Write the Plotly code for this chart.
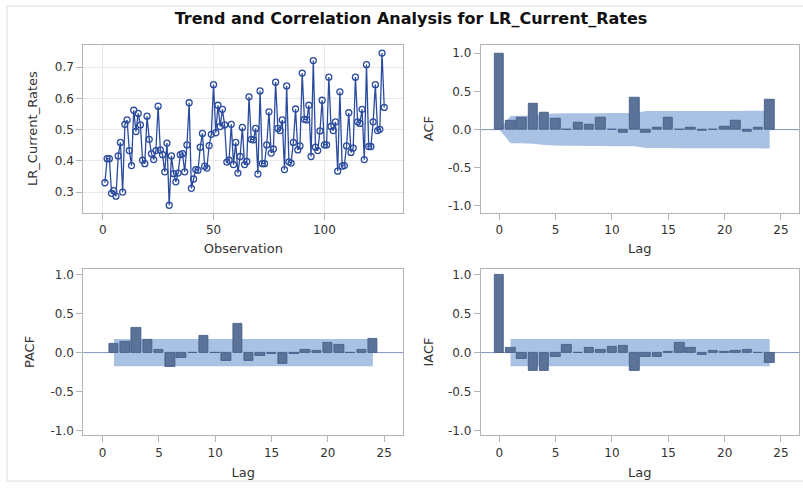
import plotly.graph_objects as go

W, H = 803, 489

# ---------------- data ----------------
series_values = [
    0.330, 0.407, 0.407, 0.296, 0.305, 0.287, 0.416, 0.459, 0.300, 0.517,
    0.531, 0.433, 0.385, 0.562, 0.494, 0.552, 0.515, 0.402, 0.391, 0.543,
    0.469, 0.423, 0.404, 0.433, 0.575, 0.435, 0.420, 0.365, 0.457, 0.258,
    0.416, 0.359, 0.333, 0.361, 0.420, 0.423, 0.365, 0.451, 0.586, 0.312,
    0.342, 0.372, 0.370, 0.444, 0.488, 0.383, 0.377, 0.449, 0.485, 0.644,
    0.490, 0.578, 0.510, 0.565, 0.515, 0.396, 0.402, 0.517, 0.388, 0.459,
    0.361, 0.414, 0.507, 0.388, 0.398, 0.605, 0.469, 0.467, 0.504, 0.358,
    0.624, 0.391, 0.391, 0.451, 0.557, 0.425, 0.438, 0.652, 0.504, 0.497,
    0.531, 0.372, 0.640, 0.397, 0.393, 0.459, 0.566, 0.435, 0.448, 0.681,
    0.533, 0.531, 0.578, 0.414, 0.721, 0.444, 0.433, 0.496, 0.594, 0.451,
    0.451, 0.668, 0.510, 0.497, 0.525, 0.367, 0.621, 0.383, 0.385, 0.448,
    0.554, 0.427, 0.441, 0.668, 0.525, 0.520, 0.565, 0.404, 0.708, 0.446,
    0.446, 0.525, 0.644, 0.497, 0.501, 0.745, 0.571,
]
observations = list(range(1, len(series_values) + 1))

lags = list(range(0, 25))
acf_values = [1.0, 0.113, 0.157, 0.339, 0.217, 0.143, 0.004, 0.087, 0.070, 0.152,
              -0.005, -0.043, 0.413, -0.039, 0.022, 0.152, 0.005, 0.020, -0.020, 0.002,
              0.035, 0.113, -0.026, 0.030, 0.391]
acf_band = [0.0, 0.178, 0.180, 0.184, 0.203, 0.210, 0.213, 0.213, 0.214, 0.215,
            0.217, 0.217, 0.218, 0.242, 0.242, 0.242, 0.244, 0.244, 0.244, 0.244,
            0.244, 0.245, 0.246, 0.246, 0.247]

pacf_lags = list(range(1, 25))
pacf_values = [0.118, 0.140, 0.317, 0.161, 0.042, -0.178, -0.063, 0.002, 0.211, 0.003,
               -0.101, 0.368, -0.101, -0.038, -0.017, -0.144, -0.020, 0.042, 0.021, 0.127,
               0.097, 0.002, 0.042, 0.182]
pacf_band = 0.175

iacf_values = [1.0, 0.055, -0.085, -0.228, -0.228, -0.051, 0.097, 0.003, 0.055, 0.042,
               0.068, 0.085, -0.228, -0.051, -0.051, 0.005, 0.127, 0.055, -0.025, 0.021,
               0.005, 0.021, 0.042, 0.002, -0.127]
iacf_band = 0.175
band_lags = [1, 24]

title_text = "Trend and Correlation Analysis for LR_Current_Rates"

# ---------------- styles ----------------
FONT = "DejaVu Sans, Verdana, sans-serif"
LINE_BLUE = "#2b4c9e"
BAR_FILL = "#5b7399"
BAR_EDGE = "#3f5781"
BAND = "#a9c2e3"
ZERO = "#7d95bd"
BORDER = "#b4b4b4"
TXT = "#333333"

fig = go.Figure()

# ---- time series ----
fig.add_trace(go.Scatter(
    x=observations, y=series_values, mode="lines+markers",
    line=dict(color=LINE_BLUE, width=1.3),
    marker=dict(symbol="circle-open", size=6, color=LINE_BLUE, line=dict(width=1.3)),
    xaxis="x", yaxis="y", showlegend=False))

bar_style = dict(color=BAR_FILL, line=dict(color=BAR_EDGE, width=0.8))
fig.add_trace(go.Bar(x=lags, y=acf_values, width=0.84, marker=bar_style,
                     xaxis="x2", yaxis="y2", showlegend=False))
fig.add_trace(go.Bar(x=pacf_lags, y=pacf_values, width=0.84, marker=bar_style,
                     xaxis="x3", yaxis="y3", showlegend=False))
fig.add_trace(go.Bar(x=lags, y=iacf_values, width=0.84, marker=bar_style,
                     xaxis="x4", yaxis="y4", showlegend=False))


def poly_path(xs, hi, lo):
    pts = list(zip(xs, hi)) + list(zip(xs[::-1], lo[::-1]))
    return "M " + " L ".join(f"{x},{y}" for x, y in pts) + " Z"


# confidence bands (below bars)
fig.add_shape(type="path", xref="x2", yref="y2",
              path=poly_path(lags, acf_band, [-v for v in acf_band]),
              fillcolor=BAND, line=dict(width=0), layer="below")
for xa, ya, b in [("x3", "y3", pacf_band), ("x4", "y4", iacf_band)]:
    fig.add_shape(type="rect", xref=xa, yref=ya, x0=band_lags[0], x1=band_lags[1],
                  y0=-b, y1=b, fillcolor=BAND, line=dict(width=0), layer="below")

# zero reference lines
for xa, ya in [("x2", "y2"), ("x3", "y3"), ("x4", "y4")]:
    fig.add_shape(type="line", xref=f"{xa} domain", yref=ya, x0=0, x1=1, y0=0, y1=0,
                  line=dict(color=ZERO, width=1), layer="below")


def px_x(p):
    return p / W


def px_y(p):
    return 1 - p / H


axis_common = dict(showline=True, mirror=True, linecolor=BORDER, linewidth=1,
                   ticks="outside", ticklen=6, tickcolor=BORDER, tickwidth=1,
                   tickfont=dict(family=FONT, size=12, color=TXT),
                   title_font=dict(family=FONT, size=13, color=TXT),
                   zeroline=False)

xdom_l = [px_x(83.3), px_x(403.3)]
xdom_r = [px_x(480.7), px_x(799)]
ydom_t = [px_y(213.3), px_y(44)]
ydom_b = [px_y(437.7), px_y(270)]

acf_ticks = dict(tickvals=[-1.0, -0.5, 0.0, 0.5, 1.0],
                 ticktext=["-1.0", "-0.5", "0.0", "0.5", "1.0"])
lag_ticks = dict(tickvals=[0, 5, 10, 15, 20, 25])

fig.update_layout(
    width=W, height=H, margin=dict(l=0, r=0, t=0, b=0),
    paper_bgcolor="white", plot_bgcolor="white",
    bargap=0, font=dict(family=FONT, color=TXT),
    title=dict(text=f"<b>{title_text}</b>", x=411 / W, xanchor="center",
               y=px_y(18), yanchor="middle",
               font=dict(family=FONT, size=16, color="#111111")),
    xaxis=dict(domain=xdom_l, anchor="y", range=[-8.75, 135.6],
               tickvals=[0, 50, 100], showgrid=True, gridcolor="#e8e8e8",
               title=dict(text="Observation", standoff=7), **axis_common),
    yaxis=dict(domain=ydom_t, anchor="x", range=[0.2346, 0.772],
               tickvals=[0.3, 0.4, 0.5, 0.6, 0.7], ticktext=["0.3", "0.4", "0.5", "0.6", "0.7"],
               showgrid=True, gridcolor="#e8e8e8",
               title=dict(text="LR_Current_Rates", standoff=14), **axis_common),
    xaxis2=dict(domain=xdom_r, anchor="y2", range=[-1.65, 26.6], showgrid=False,
                title=dict(text="Lag", standoff=7), **lag_ticks, **axis_common),
    yaxis2=dict(domain=ydom_t, anchor="x2", range=[-1.087, 1.113], showgrid=False,
                title=dict(text="ACF", standoff=11), **acf_ticks, **axis_common),
    xaxis3=dict(domain=xdom_l, anchor="y3", range=[-1.72, 26.7], showgrid=False,
                title=dict(text="Lag", standoff=9), **lag_ticks, **axis_common),
    yaxis3=dict(domain=ydom_b, anchor="x3", range=[-1.056, 1.072], showgrid=False,
                title=dict(text="PACF", standoff=12), **acf_ticks, **axis_common),
    xaxis4=dict(domain=xdom_r, anchor="y4", range=[-1.65, 26.6], showgrid=False,
                title=dict(text="Lag", standoff=9), **lag_ticks, **axis_common),
    yaxis4=dict(domain=ydom_b, anchor="x4", range=[-1.056, 1.072], showgrid=False,
                title=dict(text="IACF", standoff=11), **acf_ticks, **axis_common),
)

# outer frame of the graphic
fig.add_shape(type="rect", xref="paper", yref="paper",
              x0=px_x(7), x1=1.01, y0=px_y(484), y1=px_y(5),
              line=dict(color="#dddddd", width=1), layer="below")

fig.write_html("out.html")
